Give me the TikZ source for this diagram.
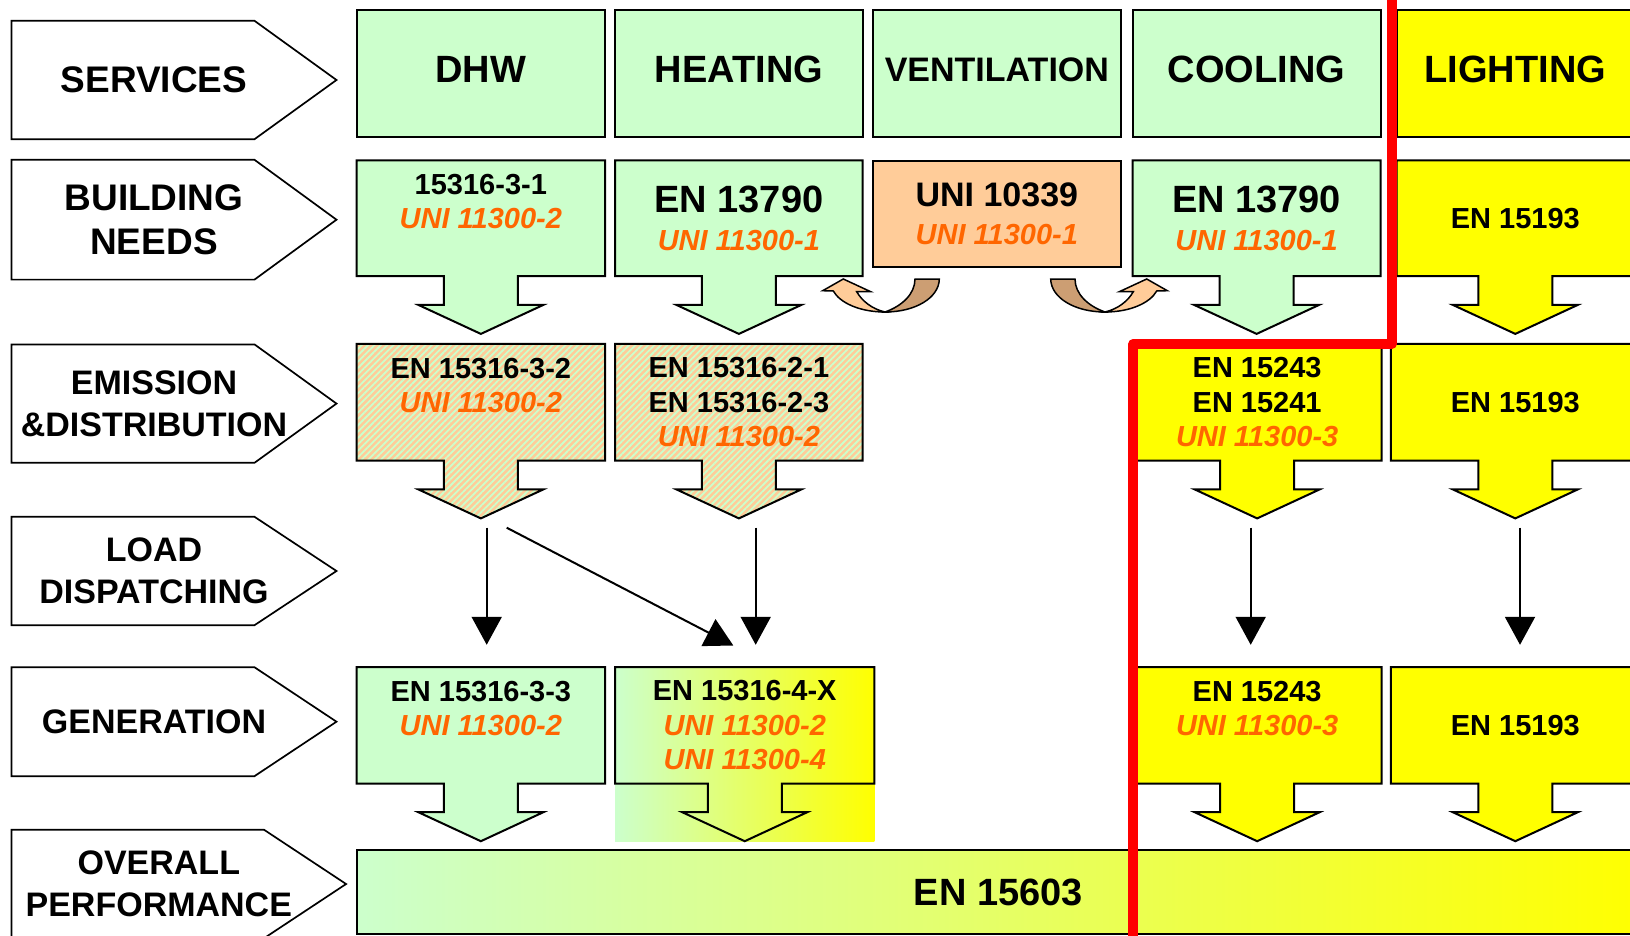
\documentclass[tikz,border=0pt]{standalone}
\usepackage{fontspec}
\setmainfont{Liberation Sans}
\usetikzlibrary{arrows.meta,backgrounds,patterns.meta}
\definecolor{mint}{HTML}{CCFFCC}
\definecolor{sun}{HTML}{FFFF00}
\definecolor{peach}{HTML}{FFCC99}
\definecolor{sand}{HTML}{CC9E73}
\definecolor{norm}{HTML}{FF6600}
\newcommand{\uni}[1]{\textcolor{norm}{\itshape #1}}
\newcommand{\bigtxt}[1]{{\fontsize{38}{40}\selectfont #1}}
\newcommand{\callout}[2][]{\draw[box,#1] (#2.north west) -- (#2.north east) -- (#2.south east)
  -- ([xshift=37pt]#2.south) -- ++(0,28.7) -- ++(25.5,0) -- ([yshift=-57.7pt]#2.south)
  -- ++(-62.5,-29) -- ++(25.5,0) -- ([xshift=-37pt]#2.south) -- (#2.south west) -- cycle;}
\newcommand{\tagoutline}[1]{\draw[tagline] (#1.north west) -- ([xshift=-42pt]#1.north east)
  -- ([xshift=40pt]#1.east) -- ([xshift=-42pt]#1.south east) -- (#1.south west) -- cycle;}

\begin{document}
\begin{tikzpicture}[x=1pt,y=-1pt,
  box/.style={line width=2pt},
  cell/.style={rectangle,inner sep=0pt,align=center,font=\fontsize{29}{34.3}\selectfont\bfseries},
  service/.style={cell,draw,line width=2pt,minimum height=127pt,text depth=8pt,font=\fontsize{38}{40}\selectfont\bfseries},
  tagnode/.style={rectangle,inner sep=0pt,align=center,minimum width=284.6pt,font=\fontsize{34}{42}\selectfont\bfseries},
  tagline/.style={line width=1.7pt,fill=white},
  hatched/.style={preaction={fill=peach},pattern={Lines[angle=45,distance=4.5pt,line width=1.8pt]},pattern color=mint},
  load/.style={line width=2pt,-{Triangle[length=28pt,width=30pt]}},
  swoosh/.pic={
    \filldraw[line width=1.5pt,fill=sand] (-80,279) -- (-55.7,279) .. controls (-56,298) and (-80,312) .. (-110,312)
      .. controls (-93,306) and (-80,294) .. cycle;
    \filldraw[line width=1.5pt,fill=peach] (-161.7,291) .. controls (-155,303) and (-135,312) .. (-110,312)
      .. controls (-123,309) and (-133,301) .. (-138.3,291.7) -- (-124.3,291.7) -- (-151.7,279) -- (-172.3,290.7) -- cycle;
  }]
  \useasboundingbox (0,0) rectangle (1630,936);

  \node[tagnode,minimum height=118pt,font=\fontsize{37}{44}\selectfont\bfseries] (servT) at (154,80) {SERVICES};
  \node[tagnode,minimum height=119.4pt,font=\fontsize{37}{44}\selectfont\bfseries] (needT) at (154,219.7) {BUILDING\\NEEDS};
  \node[tagnode,minimum height=118pt] (emisT) at (154,403.6) {EMISSION\\\&DISTRIBUTION};
  \node[tagnode,minimum height=108pt] (loadT) at (154,571) {LOAD\\DISPATCHING};
  \node[tagnode,minimum height=108.5pt] (genT) at (154,721.7) {GENERATION};
  \node[tagnode,minimum width=294.2pt,minimum height=108pt] (overT) at (158.8,884) {OVERALL\\PERFORMANCE};

  \node[service,fill=mint,minimum width=248.3pt] (dhwS) at (480.85,73.5) {DHW};
  \node[service,fill=mint,minimum width=247.2pt] (heatS) at (738.9,73.5) {HEATING};
  \node[service,fill=mint,minimum width=247.7pt,font=\fontsize{34}{40}\selectfont\bfseries] (ventS) at (996.85,73.5) {VENTILATION};
  \node[service,fill=mint,minimum width=247.8pt] (coolS) at (1256.6,73.5) {COOLING};
  \node[service,fill=sun,minimum width=237.2pt] (lightS) at (1515.3,73.5) {LIGHTING};

  \node[cell,minimum width=248.3pt,minimum height=115.3pt] (dhwB) at (480.85,218.35) {15316-3-1\\\uni{UNI 11300-2}\\\phantom{X}};
  \node[cell,minimum width=247.2pt,minimum height=115.3pt] (heatB) at (738.9,218.35) {\bigtxt{EN 13790}\\[4pt]\uni{UNI 11300-1}};
  \node[cell,draw,line width=2pt,fill=peach,minimum width=247.7pt,minimum height=106pt] (ventB) at (996.85,213.7) {{\fontsize{34}{36}\selectfont UNI 10339}\\[3pt]\uni{UNI 11300-1}};
  \node[cell,minimum width=247.8pt,minimum height=115.3pt] (coolB) at (1256.6,218.35) {\bigtxt{EN 13790}\\[4pt]\uni{UNI 11300-1}};
  \node[cell,minimum width=237.2pt,minimum height=115.3pt] (lightB) at (1515.3,218.35) {EN 15193};

  \node[cell,minimum width=248.3pt,minimum height=116.5pt] (dhwE) at (480.85,402.25) {EN 15316-3-2\\\uni{UNI 11300-2}\\\phantom{X}};
  \node[cell,minimum width=247.2pt,minimum height=116.5pt] (heatE) at (738.9,402.25) {EN 15316-2-1\\EN 15316-2-3\\\uni{UNI 11300-2}};
  \node[cell,minimum width=248.3pt,minimum height=116.5pt] (coolE) at (1257.15,402.25) {EN 15243\\EN 15241\\\uni{UNI 11300-3}};
  \node[cell,minimum width=248.6pt,minimum height=116.5pt] (lightE) at (1515.3,402.25) {EN 15193};

  \node[cell,minimum width=248.3pt,minimum height=116pt] (dhwG) at (480.85,725.3) {EN 15316-3-3\\\uni{UNI 11300-2}\\\phantom{X}};
  \node[cell,minimum width=258.9pt,minimum height=116pt] (heatG) at (744.75,725.3) {EN 15316-4-X\\\uni{UNI 11300-2}\\\uni{UNI 11300-4}};
  \node[cell,minimum width=248.3pt,minimum height=116pt] (coolG) at (1257.15,725.3) {EN 15243\\\uni{UNI 11300-3}\\\phantom{X}};
  \node[cell,minimum width=248.6pt,minimum height=116pt] (lightG) at (1515.3,725.3) {EN 15193};

  \node[cell,draw,line width=2pt,left color=mint,right color=sun,minimum width=1283.3pt,minimum height=84pt,
    font=\fontsize{38}{40}\selectfont\bfseries] (overall) at (998.35,892) {EN 15603};

  \begin{scope}[on background layer]
    \tagoutline{servT} \tagoutline{needT} \tagoutline{emisT}
    \tagoutline{loadT} \tagoutline{genT} \tagoutline{overT}
    \callout[fill=mint]{dhwB} \callout[fill=mint]{heatB}
    \callout[fill=mint]{coolB} \callout[fill=sun]{lightB}
    \callout[hatched]{dhwE} \callout[hatched]{heatE}
    \callout[fill=sun]{coolE} \callout[fill=sun]{lightE}
    \callout[fill=mint]{dhwG}
    \shade[left color=mint,right color=sun] (heatG.north west) rectangle ([yshift=-58.4pt]heatG.south east);
    \callout{heatG}
    \callout[fill=sun]{coolG} \callout[fill=sun]{lightG}
  \end{scope}

  \pic at (995,0) {swoosh};
  \pic[xscale=-1] at (995,0) {swoosh};

  \draw[load] ([xshift=5.85pt,yshift=-67pt]dhwE.south) -- ([xshift=5.85pt,yshift=22.3pt]dhwG.north);
  \draw[load] ([xshift=25.85pt,yshift=-67pt]dhwE.south) -- ([xshift=-11.45pt,yshift=21.6pt]heatG.north);
  \draw[load] ([xshift=16.8pt,yshift=-67pt]heatE.south) -- ([xshift=10.95pt,yshift=22.3pt]heatG.north);
  \draw[load] ([xshift=-6.45pt,yshift=-67pt]coolE.south) -- ([xshift=-6.45pt,yshift=22.3pt]coolG.north);
  \draw[load] ([xshift=4.7pt,yshift=-67pt]lightE.south) -- ([xshift=4.7pt,yshift=22.3pt]lightG.north);

  \draw[red,line width=10pt,line join=round] (1391.7,-10) -- (1391.7,344) -- (1133.3,344) -- (1133.3,950);
\end{tikzpicture}
\end{document}
